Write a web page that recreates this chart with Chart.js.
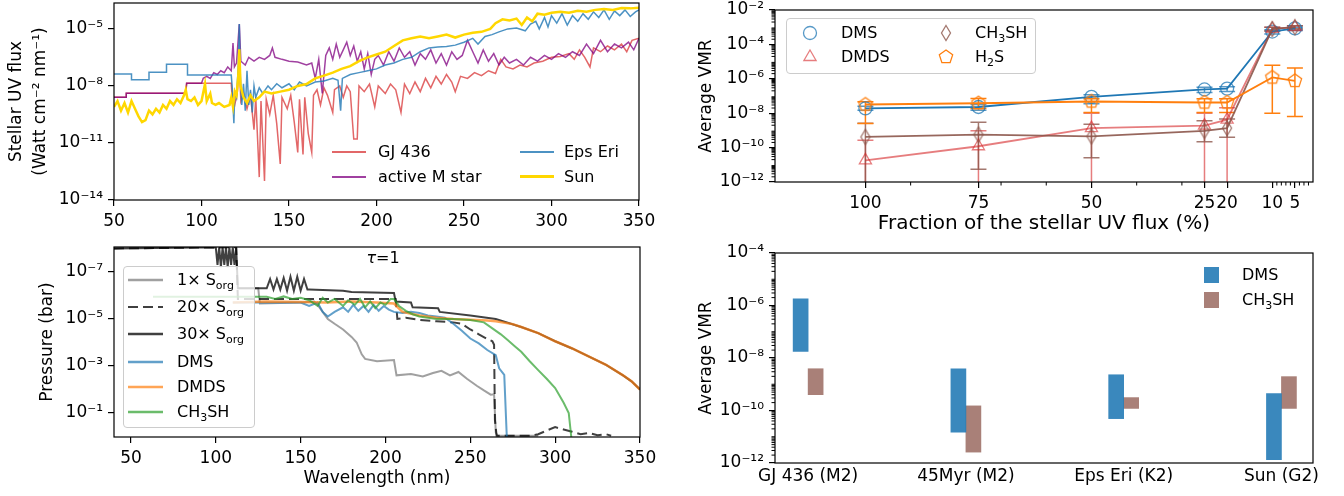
<!DOCTYPE html>
<html>
<head>
<meta charset="utf-8">
<title>Stellar UV flux and sulfur species</title>
<script src="https://cdn.jsdelivr.net/npm/chart.js@4.4.1/dist/chart.umd.min.js"></script>
<style>
  body { margin: 0; background: #fff; font-family: "DejaVu Sans", sans-serif; }
  #fig { position: relative; width: 1344px; height: 496px; overflow: hidden; }
  canvas { position: absolute; }
  .t { position: absolute; font-size: 16px; line-height: 18px; white-space: nowrap; transform: translateY(-50%); color: #000; }
  .ln { position: absolute; height: 0; }
  .mk { position: absolute; }
  .legbox { position: absolute; border: 1px solid #ccc; border-radius: 4px; background: rgba(255,255,255,0.8); box-sizing: border-box; }
  .patch { position: absolute; width: 15px; height: 16px; }
  sub { font-size: 11px; vertical-align: -4px; line-height: 0; }
</style>
</head>
<body>
<div id="fig">
  <canvas id="fluxChart" width="660" height="240" style="left:0;top:0"></canvas>
  <canvas id="fracChart" width="684" height="240" style="left:660px;top:0"></canvas>
  <canvas id="tauChart" width="660" height="256" style="left:0;top:240px"></canvas>
  <canvas id="starChart" width="684" height="256" style="left:660px;top:240px"></canvas>

  <!-- top left legend -->
  <div class="ln" style="left:332px;top:151px;width:34px;border-top:2px solid rgba(214,39,40,0.7)"></div>
  <div class="t" style="left:378px;top:152px">GJ 436</div>
  <div class="ln" style="left:332px;top:176px;width:34px;border-top:2px solid rgba(128,0,128,0.75)"></div>
  <div class="t" style="left:378px;top:177px">active M star</div>
  <div class="ln" style="left:520px;top:151px;width:34px;border-top:2px solid rgba(31,119,180,0.8)"></div>
  <div class="t" style="left:564px;top:152px">Eps Eri</div>
  <div class="ln" style="left:520px;top:175px;width:34px;border-top:3px solid #ffd700"></div>
  <div class="t" style="left:564px;top:177px">Sun</div>

  <!-- top right legend -->
  <div class="legbox" style="left:786px;top:18px;width:250px;height:56px"></div>
  <svg class="mk" style="left:800px;top:23px" width="20" height="20"><circle cx="10" cy="10" r="6.5" fill="none" stroke="rgba(31,119,180,0.75)" stroke-width="1.3"/></svg>
  <div class="t" style="left:841px;top:33px">DMS</div>
  <svg class="mk" style="left:800px;top:47px" width="20" height="20"><polygon points="10,3 16.1,13.5 3.9,13.5" fill="none" stroke="rgba(214,39,40,0.6)" stroke-width="1.3"/></svg>
  <div class="t" style="left:841px;top:57px">DMDS</div>
  <svg class="mk" style="left:936px;top:23px" width="20" height="20"><polygon points="10,2.5 14.5,10 10,17.5 5.5,10" fill="none" stroke="rgba(140,86,75,0.8)" stroke-width="1.3"/></svg>
  <div class="t" style="left:975px;top:33px">CH<sub>3</sub>SH</div>
  <svg class="mk" style="left:936px;top:47px" width="20" height="20"><polygon points="10,3 16.66,7.84 14.11,15.66 5.89,15.66 3.34,7.84" fill="none" stroke="#ff7f0e" stroke-width="1.3"/></svg>
  <div class="t" style="left:975px;top:57px">H<sub>2</sub>S</div>

  <!-- bottom left legend -->
  <div class="legbox" style="left:123px;top:266px;width:132px;height:162px"></div>
  <svg class="mk" style="left:128px;top:273px" width="36" height="14"><line x1="0" y1="7" x2="35" y2="7" stroke="rgba(128,128,128,0.75)" stroke-width="2.5"/></svg>
  <div class="t" style="left:177px;top:280px">1× S<sub>org</sub></div>
  <svg class="mk" style="left:128px;top:300px" width="36" height="14"><line x1="0" y1="7" x2="35" y2="7" stroke="rgba(0,0,0,0.75)" stroke-width="2" stroke-dasharray="10,5"/></svg>
  <div class="t" style="left:177px;top:307px">20× S<sub>org</sub></div>
  <svg class="mk" style="left:128px;top:327px" width="36" height="14"><line x1="0" y1="7" x2="35" y2="7" stroke="rgba(0,0,0,0.75)" stroke-width="2.5"/></svg>
  <div class="t" style="left:177px;top:334px">30× S<sub>org</sub></div>
  <svg class="mk" style="left:128px;top:355px" width="36" height="14"><line x1="0" y1="7" x2="35" y2="7" stroke="rgba(31,119,180,0.7)" stroke-width="2.5"/></svg>
  <div class="t" style="left:177px;top:362px">DMS</div>
  <svg class="mk" style="left:128px;top:380px" width="36" height="14"><line x1="0" y1="7" x2="35" y2="7" stroke="rgba(255,127,14,0.7)" stroke-width="2.5"/></svg>
  <div class="t" style="left:177px;top:387px">DMDS</div>
  <svg class="mk" style="left:128px;top:405px" width="36" height="14"><line x1="0" y1="7" x2="35" y2="7" stroke="rgba(44,160,44,0.7)" stroke-width="2.5"/></svg>
  <div class="t" style="left:177px;top:412px">CH<sub>3</sub>SH</div>
  <div class="t" style="left:383px;top:258px;transform:translate(-50%,-50%)"><i>τ</i>=1</div>

  <!-- bottom right legend -->
  <div class="patch" style="left:1204px;top:267px;background:rgba(31,119,180,0.88)"></div>
  <div class="t" style="left:1242px;top:275px">DMS</div>
  <div class="patch" style="left:1204px;top:292px;background:rgba(140,86,75,0.75)"></div>
  <div class="t" style="left:1242px;top:300px">CH<sub>3</sub>SH</div>
</div>

<script>
// ---------- top left: stellar UV spectra ----------
const wlTicks = [50, 100, 150, 200, 250, 300, 350];
const fluxTicks = [1e-14, 1e-11, 1e-8, 1e-5];

const gj436Wl = [50, 57, 57, 91, 91.5, 117, 117.5, 119, 120.5, 121.6, 122.5, 124, 126, 128, 130, 131,
  133, 134, 136, 137, 139, 141, 143, 145, 146, 149, 151, 153, 155, 156, 158, 159, 161, 163, 164, 166,
  168, 170, 172, 175, 176, 179, 181, 183, 185, 187, 189, 190, 193, 196, 199, 201, 205, 208, 211, 214,
  216, 219, 222, 225, 228, 231, 234, 237, 240, 243, 245, 248, 252, 256, 260, 264, 268, 271, 274, 278,
  282, 286, 290, 295, 300, 305, 310, 313, 316, 319, 322, 324, 328, 332, 336, 340, 343, 346, 350];
const gj436Flux = [2.5e-9, 2.5e-9, 4.1e-9, 4.1e-9, 1.4e-8, 1.4e-8, 2.5e-9, 1e-9, 5e-9, 1e-7, 1.6e-9, 4e-9,
  6.3e-10, 3.2e-9, 5e-11, 2.5e-9, 1.6e-13, 1.6e-9, 1e-13, 2e-9, 3.2e-10, 3.2e-9, 1e-10, 7.9e-13, 2.5e-9,
  6.3e-10, 3.2e-9, 1.26e-10, 3.2e-12, 2e-9, 2.5e-12, 2.5e-9, 3.2e-11, 3.2e-12, 3.2e-9, 6.3e-9, 1e-9,
  7.9e-9, 3.2e-9, 4e-10, 6.3e-9, 1e-8, 2.5e-9, 1e-8, 5e-9, 1.6e-11, 1.6e-11, 1e-8, 5e-9, 1.26e-8,
  7.9e-10, 1e-8, 4e-9, 1.26e-8, 6.3e-9, 4e-10, 1.26e-8, 4e-9, 1.6e-8, 5e-9, 2.5e-8, 7.9e-9, 3.2e-8,
  1.26e-8, 4e-8, 1.6e-8, 5e-9, 3.2e-8, 2.5e-8, 5e-8, 3.5e-8, 6.3e-8, 4.5e-8, 2.5e-7, 1e-7, 7.9e-8,
  1.26e-7, 1e-7, 1.6e-7, 2e-7, 3.2e-7, 3.5e-7, 5e-7, 2.5e-7, 7.9e-7, 3.2e-7, 1e-7, 1e-6, 6.3e-7,
  1.26e-6, 7.9e-7, 1.6e-6, 6.3e-7, 2.5e-6, 3.2e-6];

const activeMWl = [50, 57, 57, 91, 91.5, 100, 101, 103, 105, 107, 109, 111, 113, 115, 117, 118, 118.8,
  120, 121.6, 122.5, 125, 127, 130, 133, 136, 139, 140.5, 142, 146, 150, 155, 160, 163, 165, 167, 169,
  171, 173, 175, 177, 179, 181, 183, 185, 187, 189, 191, 193, 195, 197, 199, 201, 204, 207, 210, 213,
  216, 219, 222, 225, 228, 231, 234, 237, 240, 243, 246, 249, 252, 255, 258, 261, 264, 267, 270, 273,
  276, 280, 284, 288, 292, 296, 300, 304, 308, 312, 316, 320, 324, 328, 332, 336, 340, 344, 347, 350];
const activeMFlux = [2.5e-9, 2.5e-9, 4.1e-9, 4.1e-9, 1.4e-8, 1.4e-8, 2.5e-8, 3.2e-8, 2.5e-8, 5e-8, 4e-8,
  6.3e-8, 5e-8, 1e-7, 6.3e-8, 1.8e-6, 1e-7, 1.6e-7, 1.8e-5, 2e-7, 1.26e-7, 3.2e-7, 2e-7, 3.2e-7, 2.5e-7,
  4e-7, 1e-6, 3.2e-7, 2.5e-7, 2e-7, 1.8e-7, 1.26e-7, 1.6e-7, 2.5e-8, 2.5e-7, 4e-9, 4e-7, 1e-6, 2.5e-7,
  1.6e-6, 3.2e-7, 7.9e-7, 2e-6, 4e-7, 1.26e-6, 2e-7, 6.3e-7, 7.9e-8, 5e-7, 4e-8, 2.5e-7, 4e-7, 1.26e-7,
  6.3e-7, 2e-7, 1e-6, 3.2e-7, 6.3e-7, 1.26e-7, 5e-7, 2.5e-7, 7.9e-7, 1.6e-7, 5e-7, 1.26e-7, 6.3e-7,
  2.5e-7, 4e-7, 2.5e-6, 6.3e-7, 1.6e-7, 7.9e-7, 2e-7, 5e-7, 1.26e-7, 3.2e-7, 1.6e-7, 2.5e-7, 1.26e-7,
  3.2e-7, 2e-7, 4e-7, 2.5e-7, 5e-7, 3.2e-7, 6.3e-7, 4e-7, 1.6e-6, 5e-7, 2.5e-6, 6.3e-7, 1.6e-6, 1e-6,
  2e-6, 7.9e-7, 3.2e-6];

const epsEriWl = [50, 60, 60, 70, 70, 80, 80, 92, 92, 117, 117.5, 118.5, 119, 120, 121, 121.6, 122.2,
  123, 124, 125, 126, 127, 128, 129, 130, 131, 133, 135, 138, 140, 143, 146, 150, 153, 156, 160, 165,
  170, 175, 178, 179.5, 180.5, 185, 190, 195, 200, 205, 210, 215, 220, 225, 230, 235, 240, 245, 250,
  255, 258, 262, 266, 270, 275, 280, 285, 288, 291, 293, 296, 298, 300, 303, 306, 309, 312, 315, 318,
  321, 324, 327, 330, 333, 336, 339, 342, 345, 348, 350];
const epsEriFlux = [4.3e-8, 4.3e-8, 2.1e-8, 2.1e-8, 5.2e-8, 5.2e-8, 1.4e-7, 1.4e-7, 3.8e-8, 3.8e-8,
  1e-8, 1.1e-10, 5e-9, 2.5e-9, 1e-7, 1.8e-5, 3.2e-8, 1e-9, 1.3e-8, 5e-10, 6.3e-8, 1e-9, 6.3e-9, 4e-10,
  1e-8, 2.5e-9, 8e-9, 4e-9, 1e-8, 6.3e-9, 1.3e-8, 8e-9, 1.3e-8, 6.3e-9, 1.6e-8, 1e-8, 1.6e-8, 1.8e-8,
  2.5e-8, 2e-8, 5e-10, 2.5e-8, 4e-8, 5e-8, 6.3e-8, 7.9e-8, 1.26e-7, 1.6e-7, 2.5e-7, 3.2e-7, 6.3e-7,
  1e-6, 1.1e-6, 1.2e-6, 1.4e-6, 2e-6, 3.2e-6, 1.6e-6, 4e-6, 5e-6, 7e-6, 1e-5, 1.1e-5, 7.9e-6, 1.8e-5,
  2.5e-5, 1e-5, 4e-5, 1.26e-5, 5e-5, 2e-5, 6.3e-5, 1.6e-5, 5e-5, 2.5e-5, 6.3e-5, 3.2e-5, 7.9e-5, 4e-5,
  1e-4, 3.2e-5, 8.9e-5, 5e-5, 1e-4, 4.5e-5, 7.9e-5, 1e-4];

const sunWl = [50, 52, 54, 56, 58, 60, 62, 64, 66, 68, 70, 72, 74, 76, 78, 80, 82, 84, 86, 88, 90, 91,
  92, 94, 96, 98, 100, 102, 103, 105, 106, 108, 110, 113, 116, 117, 118, 119, 120, 121, 121.6, 122.3,
  124, 126, 128, 130, 133, 136, 140, 145, 150, 155, 160, 165, 170, 175, 180, 185, 190, 195, 200, 205,
  210, 215, 220, 225, 230, 235, 240, 245, 250, 255, 260, 265, 268, 272, 276, 280, 283, 286, 289, 292,
  296, 300, 305, 310, 315, 320, 325, 330, 335, 340, 345, 350];
const sunFlux = [7.9e-10, 1.6e-9, 5e-10, 1.26e-9, 4e-10, 1.6e-9, 6.3e-10, 2.5e-10, 1.26e-10, 1.6e-10,
  5e-10, 3.2e-10, 6.3e-10, 4e-10, 1e-9, 6.3e-10, 1.6e-9, 1e-9, 2e-9, 1.26e-9, 3.2e-9, 6.3e-9, 2e-9,
  1.6e-9, 2.5e-9, 1e-9, 1.6e-9, 1.26e-8, 1.6e-9, 4e-9, 1.26e-9, 1e-9, 1.26e-9, 7.9e-10, 1e-9, 2.5e-9,
  7.9e-10, 5e-9, 3.2e-9, 3.2e-8, 8.5e-7, 1e-8, 2.5e-9, 1.26e-9, 3.2e-9, 1.6e-9, 2.5e-9, 5e-9, 4e-9,
  5e-9, 6.3e-9, 1e-8, 1.26e-8, 2.5e-8, 3.5e-8, 5e-8, 7.9e-8, 1.1e-7, 2e-7, 3.2e-7, 4.5e-7, 6.3e-7,
  1.26e-6, 2.5e-6, 3.2e-6, 4e-6, 3.2e-6, 4e-6, 5e-6, 3.5e-6, 5e-6, 6.3e-6, 7e-6, 1e-5, 2e-5, 3.2e-5,
  2.8e-5, 3.5e-5, 1.6e-5, 4e-5, 2.5e-5, 6.3e-5, 5.6e-5, 7e-5, 7.9e-5, 7e-5, 8.9e-5, 7.9e-5, 1e-4,
  1.1e-4, 1e-4, 1.26e-4, 1.2e-4, 1.3e-4];

// ---------- top right: VMR vs fraction of UV flux ----------
const uvFraction = [100, 75, 50, 25, 20, 10, 5];
const fractionTicks = [100, 75, 50, 25, 20, 10, 5];
const fractionMinor = [90, 70, 60, 40, 30, 9, 8, 7, 6, 4, 3, 2];
const vmrTicks = [1e-12, 1e-10, 1e-8, 1e-6, 1e-4, 1e-2];

const dmsVmr = [1.9e-8, 2.3e-8, 9e-8, 2.4e-7, 2.7e-7, 5.6e-4, 8.5e-4];
const dmsLo = [1.5e-8, 1.5e-8, 3.5e-8, 1.6e-7, 1.8e-7, 4e-4, 6.5e-4];
const dmsHi = [2.5e-8, 3.2e-8, 1.2e-7, 3.2e-7, 3.4e-7, 7e-4, 1e-3];
const dmdsVmr = [1.8e-11, 1.2e-10, 1.35e-9, 1.9e-9, 4.2e-9, 7.9e-4, 1e-3];
const dmdsLo = [1e-13, 1e-13, 1e-13, 1e-13, 1e-13, 6e-4, 7e-4];
const dmdsHi = [2.7e-10, 9.5e-10, 1e-8, 1e-8, 2.1e-8, 1e-3, 1.2e-3];
const ch3shVmr = [4.2e-10, 5.7e-10, 4.5e-10, 9.5e-10, 1.35e-9, 7.9e-4, 1e-3];
const ch3shLo = [1e-13, 5.5e-12, 2.6e-11, 2.2e-10, 4e-10, 6e-4, 8e-4];
const ch3shHi = [2.6e-9, 3e-9, 2.3e-9, 3.7e-9, 4.6e-9, 1e-3, 1.2e-3];
const h2sVmr = [3.2e-8, 3.8e-8, 4.8e-8, 4.2e-8, 4.2e-8, 1.2e-6, 7.6e-7];
const h2sLo = [2.5e-9, 1.9e-8, 1.1e-8, 1.1e-8, 1.1e-8, 1e-8, 6.5e-9];
const h2sHi = [4.6e-8, 7.2e-8, 6.9e-8, 6.9e-8, 6.9e-8, 6.2e-6, 4.2e-6];

// ---------- bottom left: tau = 1 pressure ----------
const tauWlTicks = [50, 100, 150, 200, 250, 300, 350];
const pressureTicks = [1e-7, 1e-5, 1e-3, 1e-1];

const sorg1Wl = [113, 125, 126, 150, 158, 160, 163, 166, 170, 175, 180, 183, 186, 188, 195, 205, 206.5,
  215, 222, 228, 233, 238, 243, 248, 254, 258, 262, 264, 265, 266, 290];
const sorg1P = [5e-7, 5e-7, 2.2e-6, 2e-6, 1.8e-6, 2.5e-6, 5e-6, 1e-5, 1.6e-5, 2.8e-5, 5.8e-5, 1e-4,
  3.2e-4, 5e-4, 6.3e-4, 5.6e-4, 2.5e-3, 2.2e-3, 2.8e-3, 2e-3, 1.6e-3, 2.5e-3, 1.8e-3, 3.5e-3, 7.1e-3,
  1.1e-2, 1.66e-2, 1.6e-2, 0.68, 0.93, 0.93];

const sorg20Wl = [40, 112, 113, 206, 207, 212, 220, 230, 240, 245, 250, 255, 260, 263, 264, 264.5,
  265.5, 285, 290, 295, 300, 305, 310, 315, 320, 325, 330, 333];
const sorg20P = [1e-8, 8.9e-9, 1.4e-6, 1.4e-6, 1e-5, 8.9e-6, 1.1e-5, 1.26e-5, 1.4e-5, 1.6e-5, 2.8e-5,
  4.5e-5, 7.1e-5, 8.9e-5, 1.26e-4, 0.2, 0.93, 0.93, 0.8, 0.56, 0.4, 0.5, 0.63, 0.8, 0.7, 0.89, 0.8, 0.93];

const sorg30Wl = [40, 100, 101, 102, 103, 104, 105, 106, 107, 108, 109, 110, 111, 112, 113, 130, 132,
  134, 136, 138, 140, 142, 144, 146, 148, 150, 152, 154, 155, 175, 180, 205, 206, 215, 216, 231, 232,
  250, 265, 280, 290, 300, 310, 320, 330, 340, 345, 350];
const sorg30P = [1e-8, 8.9e-9, 5e-8, 8.9e-9, 6.3e-8, 8.9e-9, 5e-8, 8.9e-9, 6.3e-8, 8.9e-9, 5e-8,
  8.9e-9, 5e-8, 8.9e-9, 5e-7, 5e-7, 2e-7, 5.6e-7, 2e-7, 5.6e-7, 1.8e-7, 6.3e-7, 1.6e-7, 6.3e-7, 1.6e-7,
  6.3e-7, 2e-7, 5.6e-7, 5.6e-7, 6.3e-7, 7.1e-7, 7.9e-7, 1.8e-6, 2e-6, 3.2e-6, 3.5e-6, 5e-6, 7.1e-6,
  1e-5, 2.2e-5, 4e-5, 8.9e-5, 1.8e-4, 4e-4, 8.9e-4, 2.5e-3, 4.5e-3, 1e-2];

const dmsTauWl = [110, 150, 155, 160, 163, 166, 170, 175, 178, 181, 184, 187, 190, 193, 196, 199, 202,
  205, 210, 215, 220, 225, 230, 235, 240, 245, 250, 255, 260, 265, 267, 270, 271.5];
const dmsTauP = [2e-6, 2e-6, 2.8e-6, 2e-6, 5e-6, 7.9e-6, 5e-6, 3.2e-6, 5e-6, 2.5e-6, 4.5e-6, 2.8e-6,
  5e-6, 2.5e-6, 4.5e-6, 2.8e-6, 4e-6, 5e-6, 5.6e-6, 5e-6, 5.6e-6, 7.1e-6, 7.9e-6, 8.9e-6, 1.6e-5,
  3.2e-5, 6.8e-5, 1.1e-4, 2.1e-4, 3.5e-4, 1.26e-3, 2.4e-3, 1.05];

const dmdsTauWl = [110, 130, 150, 165, 180, 195, 205, 210, 220, 230, 240, 250, 260, 265, 275, 280, 290,
  300, 310, 320, 330, 340, 345, 350];
const dmdsTauP = [2e-6, 1.8e-6, 1.9e-6, 2e-6, 1.8e-6, 2e-6, 2.2e-6, 5e-6, 7.1e-6, 8.9e-6, 1e-5,
  1.07e-5, 1.17e-5, 1.26e-5, 1.66e-5, 2.2e-5, 4e-5, 8.9e-5, 1.8e-4, 4e-4, 8.9e-4, 2.5e-3, 4.5e-3, 1e-2];

const ch3shTauWl = [63, 130, 135, 140, 145, 150, 155, 160, 163, 166, 170, 175, 178, 182, 185, 188, 191,
  194, 197, 200, 203, 205, 208, 212, 216, 220, 230, 240, 250, 258, 263, 268, 272, 276, 280, 285, 290,
  295, 300, 305, 308, 309.5];
const ch3shTauP = [1.15e-6, 1.15e-6, 1.4e-6, 1.1e-6, 1.4e-6, 1.26e-6, 1.6e-6, 2.8e-6, 1.26e-6, 2e-6,
  1.4e-6, 2.8e-6, 1.6e-6, 2.5e-6, 1.4e-6, 3.2e-6, 1.8e-6, 3.5e-6, 2e-6, 2.5e-6, 1.4e-6, 1.4e-6, 2.8e-6,
  4.5e-6, 6.3e-6, 7.9e-6, 1e-5, 1e-5, 1.1e-5, 1.4e-5, 2.5e-5, 4.5e-5, 7.9e-5, 1.4e-4, 2.5e-4, 6.3e-4,
  1.5e-3, 3.5e-3, 8.7e-3, 3.7e-2, 0.1, 1.05];

// ---------- bottom right: VMR range per star ----------
const starNames = ['GJ 436 (M2)', '45Myr (M2)', 'Eps Eri (K2)', 'Sun (G2)'];
const starTicks = [0, 1, 2, 3];
const starVmrTicks = [1e-12, 1e-10, 1e-8, 1e-6, 1e-4];
const dmsRange = [[1.8e-8, 1.8e-6], [1.5e-11, 3.9e-9], [4.9e-11, 2.3e-9], [1.35e-12, 4.4e-10]];
const ch3shRange = [[4e-10, 3.9e-9], [2.6e-12, 1.5e-10], [1.2e-10, 3.1e-10], [1.2e-10, 1.95e-9]];

// ---------- helpers ----------
Chart.defaults.font.family = '"DejaVu Sans", sans-serif';
Chart.defaults.font.size = 17;
Chart.defaults.color = '#000';
Chart.defaults.animation = false;
Chart.defaults.plugins.legend.display = false;
Chart.defaults.plugins.tooltip.enabled = false;
Chart.defaults.elements.point.radius = 0;
Chart.defaults.elements.line.tension = 0;

const SUP = {'-': '⁻', '0': '⁰', '1': '¹', '2': '²', '3': '³', '4': '⁴', '5': '⁵', '6': '⁶', '7': '⁷', '8': '⁸', '9': '⁹'};
function powLabel(v) {
  return '10' + String(Math.round(Math.log10(v))).split('').map(c => SUP[c]).join('');
}
function xy(xs, ys) {
  return xs.map((x, i) => ({ x: x, y: ys[i] }));
}
function fixedTicks(list) {
  return s => { s.ticks = list.map(v => ({ value: v })); };
}
function sizeAxis(prop, size) {
  return s => {
    s[prop] = size;
    s.paddingLeft = s.paddingRight = s.paddingTop = s.paddingBottom = 0;
  };
}
function logMinors(lo, hi) {
  const out = [];
  for (let e = lo; e < hi; e++) {
    for (let m = 2; m < 10; m++) out.push(m * Math.pow(10, e));
  }
  return out;
}
const tickGrid = { drawOnChartArea: false, color: '#000', lineWidth: 1.2, tickLength: 6 };
const noBorder = { display: false };
const titleFont = { size: 17, lineHeight: 1.4 };

// box around the plot area
const framePlugin = {
  id: 'frame',
  afterDraw(chart) {
    const { ctx, chartArea: a } = chart;
    ctx.save();
    ctx.strokeStyle = '#000';
    ctx.lineWidth = 1.2;
    ctx.strokeRect(a.left, a.top, a.right - a.left, a.bottom - a.top);
    ctx.restore();
  }
};

// short unlabeled ticks
const minorTickPlugin = {
  id: 'minorTicks',
  afterDraw(chart, args, opts) {
    const { ctx, chartArea: a, scales } = chart;
    ctx.save();
    ctx.strokeStyle = '#000';
    ctx.lineWidth = 1;
    ctx.beginPath();
    (opts.x || []).forEach(v => {
      const px = scales.x.getPixelForValue(v);
      ctx.moveTo(px, a.bottom);
      ctx.lineTo(px, a.bottom + 3.5);
    });
    (opts.y || []).forEach(v => {
      const py = scales.y.getPixelForValue(v);
      if (py < a.top - 0.5 || py > a.bottom + 0.5) return;
      ctx.moveTo(a.left, py);
      ctx.lineTo(a.left - 3.5, py);
    });
    ctx.stroke();
    ctx.restore();
  }
};

// vertical error bars with caps
const errorBarPlugin = {
  id: 'errorBars',
  beforeDatasetsDraw(chart) {
    const { ctx, chartArea: a, scales: { x, y } } = chart;
    ctx.save();
    ctx.beginPath();
    ctx.rect(a.left, a.top, a.right - a.left, a.bottom - a.top);
    ctx.clip();
    chart.data.datasets.forEach(ds => {
      if (!ds.errLo) return;
      ctx.strokeStyle = ds.pointBorderColor;
      ctx.lineWidth = 1.5;
      ds.data.forEach((p, i) => {
        const px = x.getPixelForValue(p.x);
        const lo = y.getPixelForValue(ds.errLo[i]);
        const hi = y.getPixelForValue(ds.errHi[i]);
        ctx.beginPath();
        ctx.moveTo(px, lo); ctx.lineTo(px, hi);
        ctx.moveTo(px - 8, lo); ctx.lineTo(px + 8, lo);
        ctx.moveTo(px - 8, hi); ctx.lineTo(px + 8, hi);
        ctx.stroke();
      });
    });
    ctx.restore();
  }
};

function markerImage(size, draw) {
  const c = document.createElement('canvas');
  c.width = size; c.height = size;
  draw(c.getContext('2d'), size / 2);
  return c;
}
const pentagonImg = markerImage(18, (g, c) => {
  g.beginPath();
  for (let k = 0; k < 5; k++) {
    const ang = -Math.PI / 2 + k * 2 * Math.PI / 5;
    const px = c + 7 * Math.cos(ang), py = c + 7 * Math.sin(ang);
    if (k) g.lineTo(px, py); else g.moveTo(px, py);
  }
  g.closePath();
  g.strokeStyle = '#ff7f0e'; g.lineWidth = 1.3; g.stroke();
});
const thinDiamondImg = markerImage(18, (g, c) => {
  g.beginPath();
  g.moveTo(c, c - 7.5); g.lineTo(c + 4.5, c); g.lineTo(c, c + 7.5); g.lineTo(c - 4.5, c);
  g.closePath();
  g.strokeStyle = 'rgba(140,86,75,0.8)'; g.lineWidth = 1.3; g.stroke();
});

// ---------- top left ----------
new Chart(document.getElementById('fluxChart'), {
  type: 'line',
  data: {
    datasets: [
      { data: xy(gj436Wl, gj436Flux), borderColor: 'rgba(214,39,40,0.7)', borderWidth: 1.5, order: 4 },
      { data: xy(activeMWl, activeMFlux), borderColor: 'rgba(128,0,128,0.75)', borderWidth: 1.5, order: 3 },
      { data: xy(epsEriWl, epsEriFlux), borderColor: 'rgba(31,119,180,0.8)', borderWidth: 1.5, order: 2 },
      { data: xy(sunWl, sunFlux), borderColor: '#ffd700', borderWidth: 2.5, order: 1 }
    ]
  },
  options: {
    responsive: false,
    layout: { padding: { top: 3, right: 21, left: 0, bottom: 0 } },
    scales: {
      x: {
        type: 'linear', min: 50, max: 350,
        afterBuildTicks: fixedTicks(wlTicks), afterFit: sizeAxis('height', 40),
        ticks: { autoSkip: false, maxRotation: 0, padding: 5 },
        grid: tickGrid, border: noBorder
      },
      y: {
        type: 'logarithmic', min: 1e-14, max: 2.3e-4,
        afterBuildTicks: fixedTicks(fluxTicks), afterFit: sizeAxis('width', 114),
        ticks: { callback: powLabel, padding: 5, autoSkip: false },
        grid: tickGrid, border: noBorder,
        title: { display: true, text: ['Stellar UV flux', '(Watt cm⁻² nm⁻¹)'], padding: { top: 5 }, font: titleFont }
      }
    }
  },
  plugins: [framePlugin]
});

// ---------- top right ----------
new Chart(document.getElementById('fracChart'), {
  type: 'line',
  data: {
    datasets: [
      { data: xy(uvFraction, dmsVmr), borderColor: '#1f77b4', borderWidth: 1.8, pointStyle: 'circle', pointRadius: 6.5,
        pointBorderColor: 'rgba(31,119,180,0.75)', pointBackgroundColor: 'rgba(0,0,0,0)', pointBorderWidth: 1.3,
        errLo: dmsLo, errHi: dmsHi, order: 4 },
      { data: xy(uvFraction, dmdsVmr), borderColor: 'rgba(214,39,40,0.6)', borderWidth: 1.8, pointStyle: 'triangle', pointRadius: 7,
        pointBorderColor: 'rgba(214,39,40,0.6)', pointBackgroundColor: 'rgba(0,0,0,0)', pointBorderWidth: 1.3,
        errLo: dmdsLo, errHi: dmdsHi, order: 3 },
      { data: xy(uvFraction, ch3shVmr), borderColor: 'rgba(140,86,75,0.9)', borderWidth: 1.8, pointStyle: thinDiamondImg, pointRadius: 7,
        pointBorderColor: 'rgba(140,86,75,0.8)', pointBackgroundColor: 'rgba(0,0,0,0)',
        errLo: ch3shLo, errHi: ch3shHi, order: 2 },
      { data: xy(uvFraction, h2sVmr), borderColor: '#ff7f0e', borderWidth: 1.8, pointStyle: pentagonImg, pointRadius: 7,
        pointBorderColor: '#ff7f0e', pointBackgroundColor: 'rgba(0,0,0,0)',
        errLo: h2sLo, errHi: h2sHi, order: 1 }
    ]
  },
  options: {
    responsive: false,
    layout: { padding: { top: 10, right: 31, left: 0, bottom: 0 } },
    scales: {
      x: {
        type: 'linear', reverse: true, min: 1, max: 120,
        afterBuildTicks: fixedTicks(fractionTicks), afterFit: sizeAxis('height', 58),
        ticks: { autoSkip: false, maxRotation: 0, padding: 5, callback: v => String(v) },
        grid: tickGrid, border: noBorder,
        title: { display: true, text: 'Fraction of the stellar UV flux (%)', padding: { bottom: 2 }, font: { size: 20, lineHeight: 1.4 } }
      },
      y: {
        type: 'logarithmic', min: 1e-12, max: 1e-2,
        afterBuildTicks: fixedTicks(vmrTicks), afterFit: sizeAxis('width', 115),
        ticks: { callback: powLabel, padding: 5, autoSkip: false },
        grid: tickGrid, border: noBorder,
        title: { display: true, text: 'Average VMR', padding: { top: 35 }, font: titleFont }
      }
    },
    plugins: { minorTicks: { x: fractionMinor, y: logMinors(-12, -2) } }
  },
  plugins: [errorBarPlugin, minorTickPlugin, framePlugin]
});

// ---------- bottom left ----------
new Chart(document.getElementById('tauChart'), {
  type: 'line',
  data: {
    datasets: [
      { data: xy(sorg1Wl, sorg1P), borderColor: 'rgba(128,128,128,0.75)', borderWidth: 2, order: 6 },
      { data: xy(sorg20Wl, sorg20P), borderColor: 'rgba(0,0,0,0.75)', borderWidth: 2, borderDash: [10, 5], order: 5 },
      { data: xy(sorg30Wl, sorg30P), borderColor: 'rgba(0,0,0,0.75)', borderWidth: 2, order: 4 },
      { data: xy(dmsTauWl, dmsTauP), borderColor: 'rgba(31,119,180,0.7)', borderWidth: 2, order: 3 },
      { data: xy(dmdsTauWl, dmdsTauP), borderColor: 'rgba(255,127,14,0.7)', borderWidth: 2.5, order: 2 },
      { data: xy(ch3shTauWl, ch3shTauP), borderColor: 'rgba(44,160,44,0.7)', borderWidth: 2, order: 1 }
    ]
  },
  options: {
    responsive: false,
    layout: { padding: { top: 7, right: 20, left: 0, bottom: 0 } },
    scales: {
      x: {
        type: 'linear', min: 40, max: 350,
        afterBuildTicks: fixedTicks(tauWlTicks), afterFit: sizeAxis('height', 59),
        ticks: { autoSkip: false, maxRotation: 0, padding: 5 },
        grid: tickGrid, border: noBorder,
        title: { display: true, text: 'Wavelength (nm)', padding: { bottom: 6 }, font: titleFont }
      },
      y: {
        type: 'logarithmic', reverse: true, min: 8.7e-9, max: 1.05,
        afterBuildTicks: fixedTicks(pressureTicks), afterFit: sizeAxis('width', 114),
        ticks: { callback: powLabel, padding: 5, autoSkip: false },
        grid: tickGrid, border: noBorder,
        title: { display: true, text: 'Pressure (bar)', padding: { top: 36 }, font: titleFont }
      }
    }
  },
  plugins: [framePlugin]
});

// ---------- bottom right ----------
new Chart(document.getElementById('starChart'), {
  type: 'bar',
  data: {
    datasets: [
      { data: starTicks.map(i => ({ x: i, y: dmsRange[i] })), backgroundColor: 'rgba(31,119,180,0.88)', barThickness: 15 },
      { data: starTicks.map(i => ({ x: i, y: ch3shRange[i] })), backgroundColor: 'rgba(140,86,75,0.75)', barThickness: 15 }
    ]
  },
  options: {
    responsive: false,
    layout: { padding: { top: 13, right: 31, left: 0, bottom: 0 } },
    scales: {
      x: {
        type: 'linear', offset: false, min: -0.21, max: 3.2,
        afterBuildTicks: fixedTicks(starTicks), afterFit: sizeAxis('height', 33),
        ticks: { autoSkip: false, maxRotation: 0, padding: 3, callback: v => starNames[v] },
        grid: { display: false, drawTicks: false, tickLength: 0 }, border: noBorder
      },
      y: {
        type: 'logarithmic', min: 1e-12, max: 1e-4,
        afterBuildTicks: fixedTicks(starVmrTicks), afterFit: sizeAxis('width', 115),
        ticks: { callback: powLabel, padding: 5, autoSkip: false },
        grid: tickGrid, border: noBorder,
        title: { display: true, text: 'Average VMR', padding: { top: 35 }, font: titleFont }
      }
    },
    plugins: { minorTicks: { y: logMinors(-12, -4).concat([1e-11, 1e-9, 1e-7, 1e-5]) } }
  },
  plugins: [minorTickPlugin, framePlugin]
});
</script>
</body>
</html>
